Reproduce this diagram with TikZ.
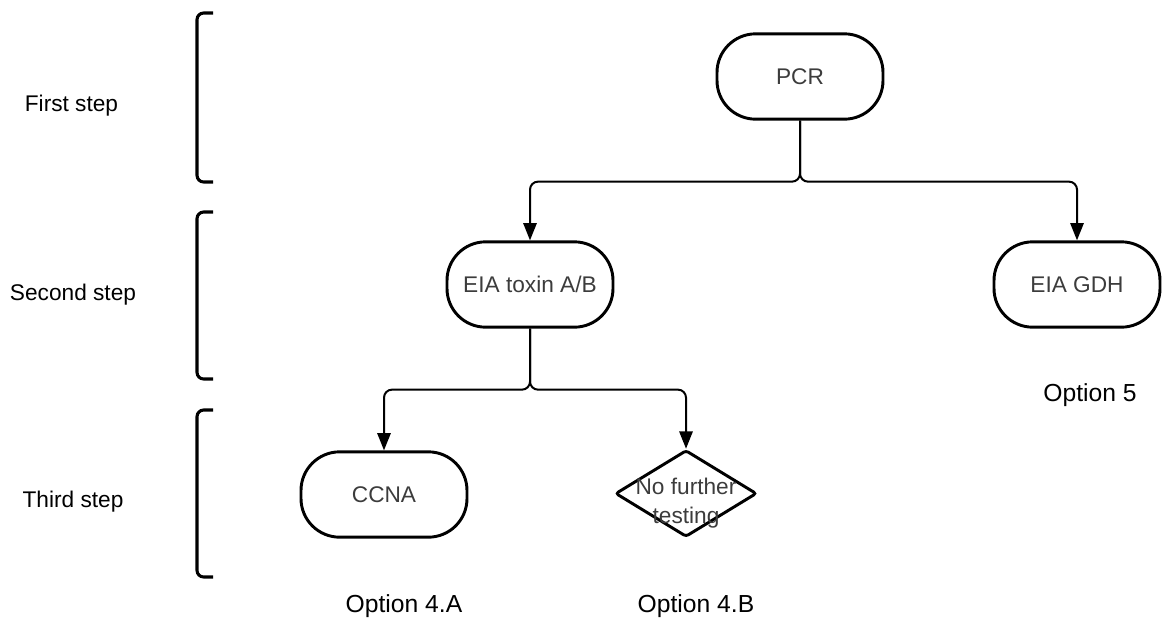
\documentclass[tikz,border=0pt]{standalone}
\usepackage{fontspec}
\setmainfont{Liberation Sans}
\usetikzlibrary{arrows.meta,shapes.geometric}
\definecolor{nodetext}{HTML}{3C3C3C}
\tikzset{
  stadium/.style={draw=black, line width=2.2pt, rectangle, rounded corners=29pt,
    minimum width=124.5pt, minimum height=64pt, inner sep=0pt,
    text=nodetext, font=\fontsize{17}{20}\selectfont},
  decision/.style={draw=black, line width=2.2pt, diamond, rounded corners=2pt,
    minimum width=106pt, minimum height=65pt, inner sep=0pt},
  conn/.style={draw=black, line width=1.5pt, rounded corners=6pt,
    -{Triangle[length=13pt,width=10pt]}},
  bracket/.style={draw=black, line width=2.3pt, rounded corners=5pt},
  steplabel/.style={font=\fontsize{17}{20}\selectfont, text=black},
  optlabel/.style={font=\fontsize{18.5}{22}\selectfont, text=black},
}
\begin{document}
\begin{tikzpicture}[x=0.75pt, y=-0.75pt]
\useasboundingbox (0,0) rectangle (1163,619);

% step brackets and their labels
\draw[bracket] (213,13) -- (197,13) -- (197,182) -- (213,182);
\draw[bracket] (213,212) -- (197,212) -- (197,379) -- (213,379);
\draw[bracket] (213,410) -- (197,410) -- (197,577) -- (213,577);
\node[steplabel] (s1) at (71.5,106) {First step};
\node[steplabel] (s2) at (73,295) {Second step};
\node[steplabel] (s3) at (73,502) {Third step};

% test nodes
\node[stadium] (pcr) at (800,76.5) {PCR};
\node[stadium] (eiaab) at (530,284.5) {EIA toxin A/B};
\node[stadium] (gdh) at (1077,284.5) {EIA GDH};
\node[stadium] (ccna) at (384,494.5) {CCNA};
\node[decision] (nft) at (686,493.5) {};
\node[text=nodetext, font=\fontsize{17}{20}\selectfont, align=center]
  (nftxt) at (686,503) {No further\\[1.5pt]testing};

% option labels
\node[optlabel] (o5) at (1090,395) {Option 5};
\node[optlabel] (o4a) at (404,606) {Option 4.A};
\node[optlabel] (o4b) at (696,606) {Option 4.B};

% connectors
\draw[conn] (pcr.south) -- ++(0,61) -| (eiaab.north);
\draw[conn] (pcr.south) -- ++(0,61) -| (gdh.north);
\draw[conn] (eiaab.south) -- ++(0,61) -| (ccna.north);
\draw[conn] (eiaab.south) -- ++(0,61) -| (nft.north);
\end{tikzpicture}
\end{document}
